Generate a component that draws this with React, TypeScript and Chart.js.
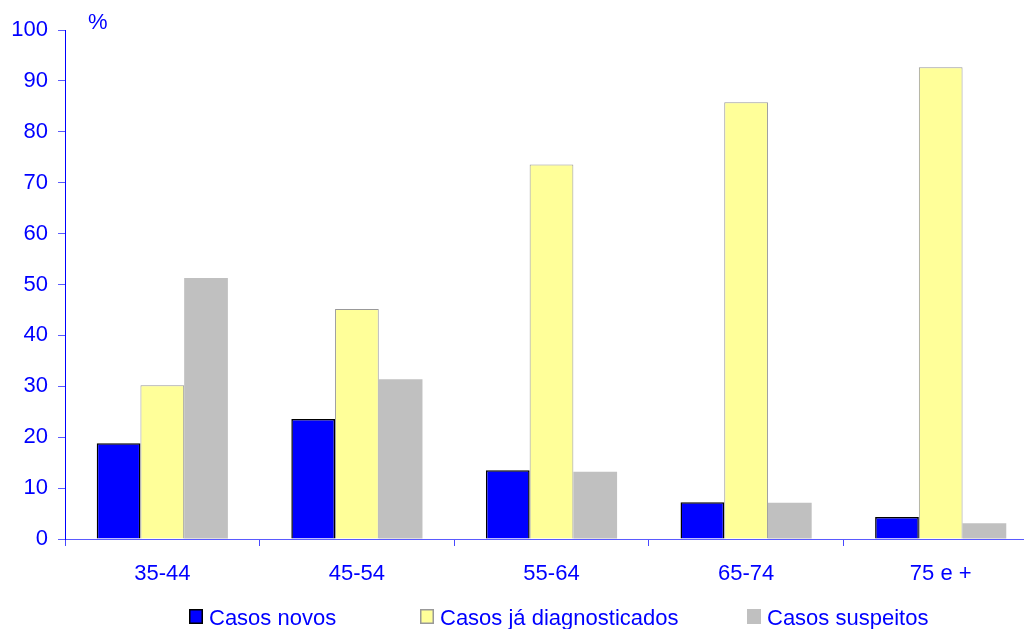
import React, { useEffect, useRef } from 'react';
import { Chart, registerables } from 'chart.js';

Chart.register(...registerables);

const categories = ['35-44', '45-54', '55-64', '65-74', '75 e +'];
const seriesLabels = ['Casos novos', 'Casos já diagnosticados', 'Casos suspeitos'];
const casosNovos = [18.8, 23.6, 13.5, 7.2, 4.3];
const casosJaDiagnosticados = [30.2, 45.2, 73.6, 85.8, 92.7];
const casosSuspeitos = [51.3, 31.4, 13.2, 7.1, 3.1];
const yUnit = '%';

const FONT = '"Liberation Sans", Arial, sans-serif';
const BLUE = '#0000ff';

const legendX = [189, 420, 747];

const extrasPlugin = {
  id: 'extras',
  afterDraw(chart: any) {
    const ctx = chart.ctx;
    ctx.save();
    ctx.font = `22px ${FONT}`;
    ctx.fillStyle = BLUE;
    ctx.textAlign = 'left';
    ctx.textBaseline = 'alphabetic';
    ctx.fillText(yUnit, 88, 29);
    chart.data.datasets.forEach((ds: any, i: number) => {
      const x = legendX[i];
      const y = 609;
      ctx.fillStyle = ds.backgroundColor;
      ctx.fillRect(x, y, 14, 15);
      if (ds.borderWidth > 0) {
        ctx.strokeStyle = ds.borderColor;
        ctx.lineWidth = 1.5;
        ctx.strokeRect(x + 0.75, y + 0.75, 12.5, 13.5);
      }
      ctx.fillStyle = BLUE;
      ctx.font = `22px ${FONT}`;
      ctx.fillText(ds.label, x + 20, 625);
    });
    ctx.restore();
  },
};

export default function App() {
  const ref = useRef<HTMLCanvasElement>(null);
  useEffect(() => {
    if (!ref.current) return;
    const chart = new Chart(ref.current, {
      type: 'bar',
      data: {
        labels: categories,
        datasets: [
          {
            label: seriesLabels[0],
            data: casosNovos,
            backgroundColor: '#0000ff',
            borderColor: '#000000',
            borderWidth: 1.5,
          },
          {
            label: seriesLabels[1],
            data: casosJaDiagnosticados,
            backgroundColor: '#ffff99',
            borderColor: '#999999',
            borderWidth: 1,
          },
          {
            label: seriesLabels[2],
            data: casosSuspeitos,
            backgroundColor: '#c0c0c0',
            borderColor: '#c0c0c0',
            borderWidth: 0,
          },
        ],
      },
      options: {
        responsive: false,
        animation: false,
        devicePixelRatio: 1,
        layout: { padding: { top: 30, right: 2, left: 0, bottom: 0 } },
        datasets: {
          bar: { categoryPercentage: 0.674, barPercentage: 1 },
        },
        plugins: {
          legend: { display: false },
          tooltip: { enabled: false },
        },
        scales: {
          x: {
            offset: true,
            grid: {
              display: true,
              offset: true,
              drawOnChartArea: false,
              drawTicks: true,
              tickLength: 7,
              color: '#4848ff',
            },
            border: { color: '#5a5aff', width: 1 },
            ticks: {
              color: BLUE,
              font: { family: FONT, size: 22 },
              padding: 15,
              maxRotation: 0,
            },
            afterFit: (s: any) => {
              s.height = 90;
            },
          },
          y: {
            min: 0,
            max: 100,
            grid: {
              drawOnChartArea: false,
              drawTicks: true,
              tickLength: 7,
              color: '#5a5aff',
            },
            border: { color: BLUE, width: 1 },
            ticks: {
              stepSize: 10,
              color: BLUE,
              font: { family: FONT, size: 22 },
              padding: 10,
            },
            afterFit: (s: any) => {
              s.width = 65;
            },
          },
        },
      },
      plugins: [extrasPlugin],
    });
    return () => chart.destroy();
  }, []);

  return (
    <div style={{ position: 'fixed', left: 0, top: 0, width: 1040, height: 629, background: '#fff' }}>
      <canvas ref={ref} width={1040} height={629} style={{ display: 'block' }} />
    </div>
  );
}
